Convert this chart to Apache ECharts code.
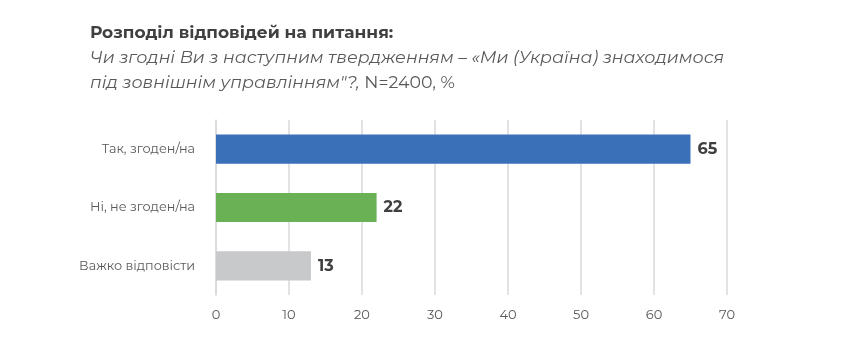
<!DOCTYPE html>
<html><head><meta charset="utf-8">
<script src="https://cdn.jsdelivr.net/npm/echarts@6/dist/echarts.min.js"></script>
<style>html,body{margin:0;padding:0;background:#fff}#c{width:861px;height:349px}</style>
</head><body><div id="c"></div>
<script>
const categories = ['Так, згоден/на', 'Ні, не згоден/на', 'Важко відповісти'];
const values = [65, 22, 13];
const colors = ['#3A70B8', '#6AB155', '#C8C9CB'];
const xTicks = [0, 10, 20, 30, 40, 50, 60, 70];

const font = 'Montserrat, "Noto Sans", "Open Sans", sans-serif';
const chart = echarts.init(document.getElementById('c'));
chart.setOption({
  backgroundColor: '#fff',
  animation: false,
  title: {
    left: 85, top: 15,
    text: '{b|Розподіл відповідей на питання:}\n{i|Чи згодні Ви з наступним твердженням – «Ми (Україна) знаходимося}\n{i|під зовнішнім управлінням"?,}{n| N=2400, %}',
    textStyle: {
      fontFamily: font, fontWeight: 'normal',
      rich: {
        b: { fontSize: 17, fontWeight: 'bold', color: '#404040', lineHeight: 25, fontFamily: font },
        i: { fontSize: 17.4, fontStyle: 'italic', fontWeight: 'normal', color: '#595959', lineHeight: 25, fontFamily: font },
        n: { fontSize: 17.4, fontWeight: 'normal', color: '#595959', lineHeight: 25, fontFamily: font }
      }
    }
  },
  grid: { left: 216, right: 134, top: 120, bottom: 54, containLabel: false },
  xAxis: {
    type: 'value', min: 0, max: 70, interval: 10,
    axisLine: { show: false },
    axisTick: { show: false },
    splitLine: { show: true, lineStyle: { color: '#D9D9D9', width: 1.5 } },
    axisLabel: { color: '#595959', fontSize: 13, fontFamily: font, margin: 14,
      formatter: v => xTicks.includes(v) ? String(v) : '' }
  },
  yAxis: {
    type: 'category', data: categories, inverse: true,
    axisLine: { show: true, lineStyle: { color: '#D9D9D9', width: 1.5 } },
    axisTick: { show: false },
    axisLabel: { color: '#595959', fontSize: 12.8, fontFamily: font, margin: 21 }
  },
  series: [{
    type: 'bar', barWidth: '50%',
    data: values.map((v, i) => ({ value: v, itemStyle: { color: colors[i] } })),
    label: { show: true, position: 'right', distance: 7, color: '#404040', fontSize: 16, fontWeight: 'bold', fontFamily: font }
  }]
});
</script></body></html>
